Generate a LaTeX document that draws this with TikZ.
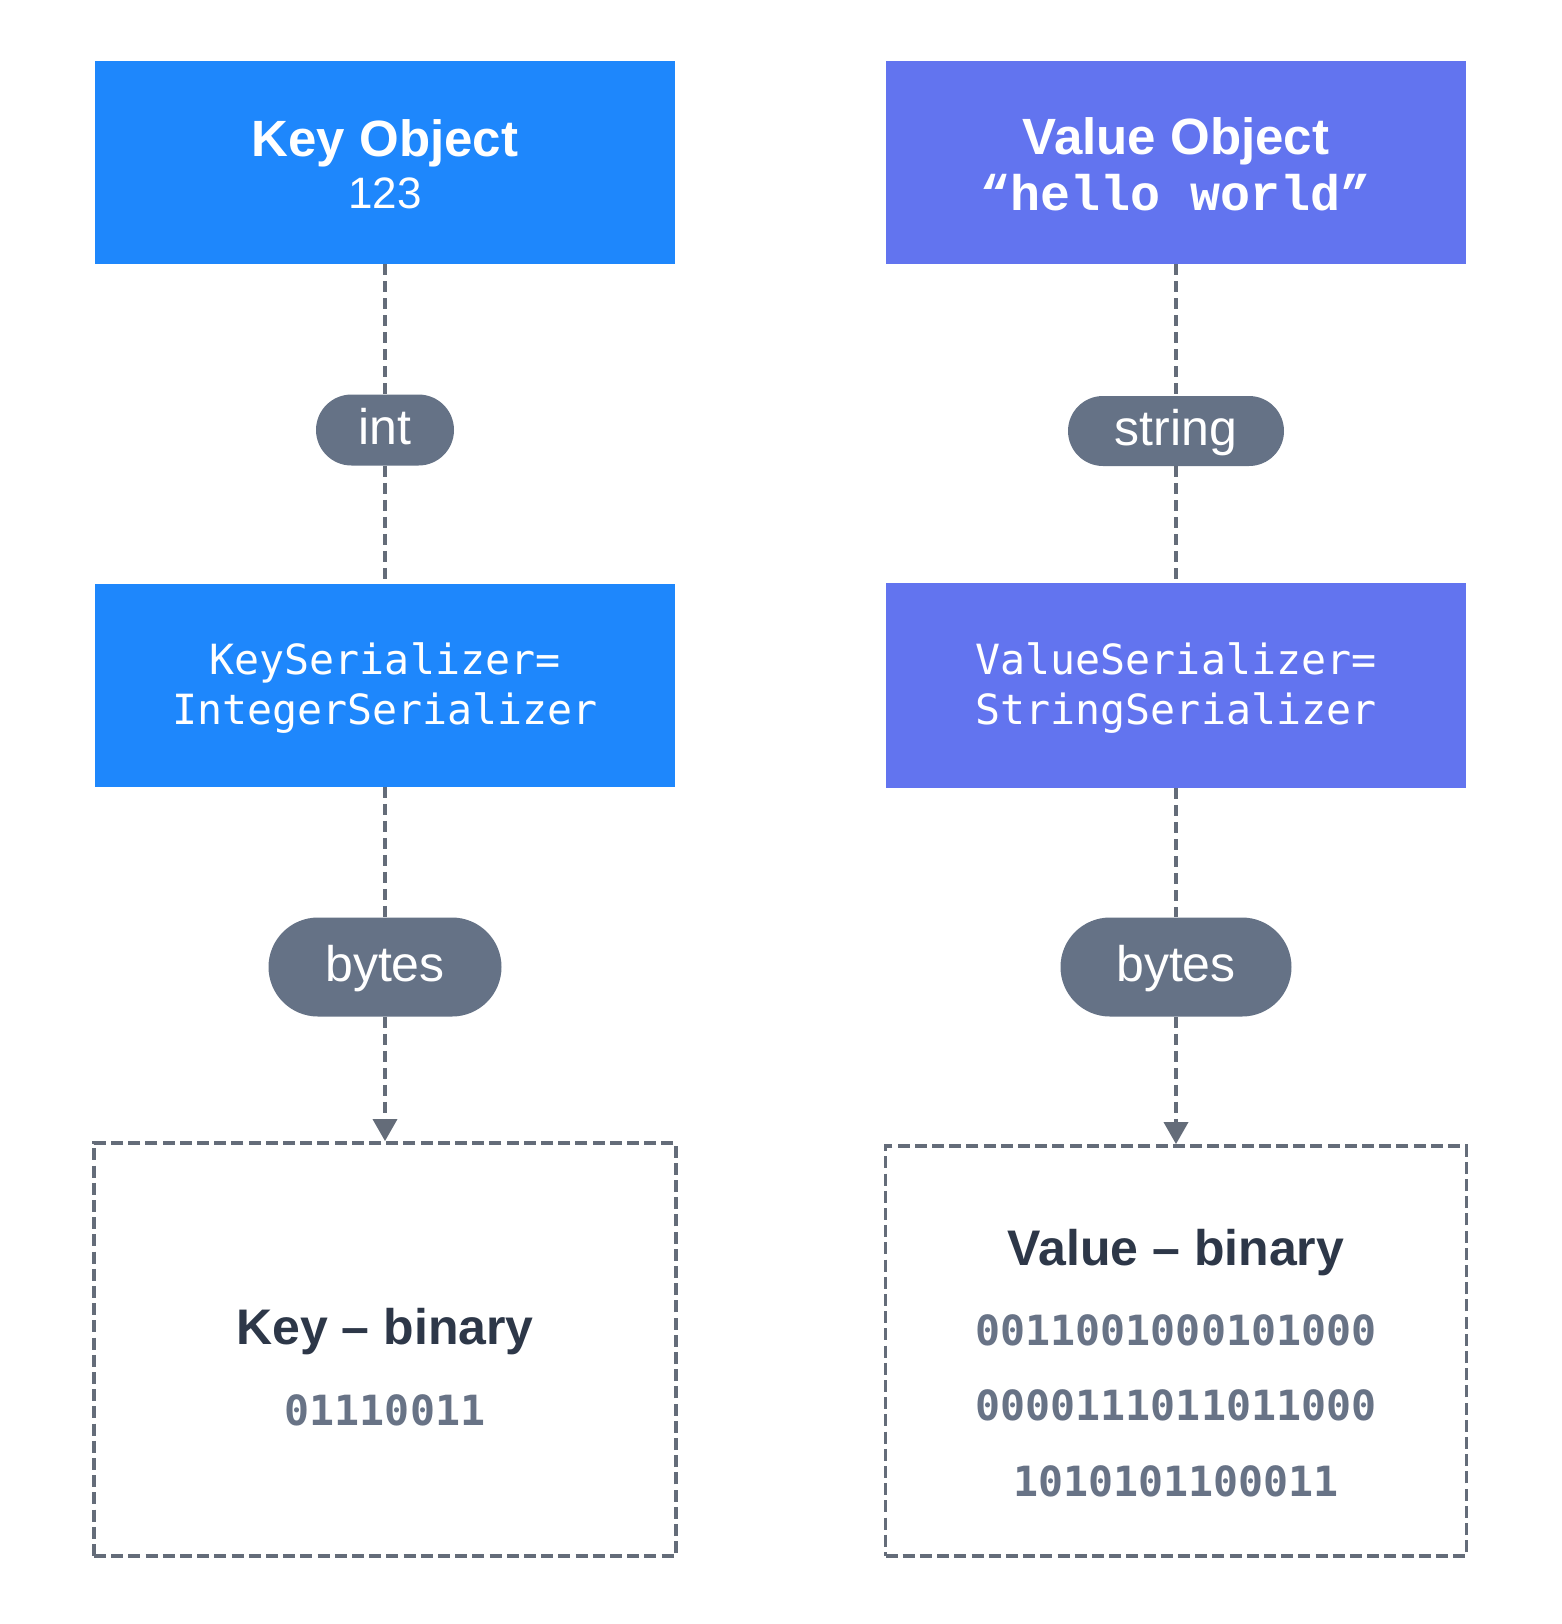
\documentclass[tikz,border=0pt]{standalone}
\usepackage{fontspec}
\setmainfont{Liberation Sans}
\newfontfamily\codefont{DejaVu Sans Mono}
\newfontfamily\strfont{Liberation Mono}
\usetikzlibrary{arrows.meta}

\definecolor{keyblue}{HTML}{1E87FC}
\definecolor{valpurple}{HTML}{6274EF}
\definecolor{pillgray}{HTML}{657286}
\definecolor{linegray}{HTML}{646C79}
\definecolor{darktext}{HTML}{2D3748}
\definecolor{bitgray}{HTML}{687386}

\begin{document}
\begin{tikzpicture}[
  x=0.5pt, y=-0.5pt,
  objbox/.style={rectangle, minimum width=290pt, minimum height=101.5pt, inner sep=0pt},
  keybox/.style={objbox, fill=keyblue},
  valbox/.style={objbox, fill=valpurple},
  % capsule label: the argument is half the capsule height
  pill/.style={rectangle, rounded corners=#1, minimum height=2*#1,
               fill=pillgray, text=white, inner sep=0pt,
               text height=21.5pt, text depth=7pt,
               font=\fontsize{25}{30}\selectfont},
  resultbox/.style={rectangle, draw=linegray, line width=1.9pt,
                    dash pattern=on 6pt off 2.6pt, inner sep=0pt,
                    minimum width=290pt, minimum height=205pt},
  flow/.style={draw=linegray, line width=1.8pt, dash pattern=on 5.5pt off 3pt},
  flowarrow/.style={flow, -{Triangle[width=12pt,length=11pt]}},
  title/.style={anchor=base, text=white, font=\bfseries\fontsize{25.5}{30}\selectfont},
  codeline/.style={anchor=base, text=white, font=\codefont\fontsize{20.8}{25}\selectfont},
  bintitle/.style={anchor=base, text=darktext, font=\bfseries\fontsize{25}{30}\selectfont},
  bits/.style={anchor=base, text=bitgray, font=\codefont\bfseries\fontsize{20.8}{25}\selectfont},
]
\useasboundingbox (0,0) rectangle (1562,1624);
\fill[white] (0,0) rectangle (1562,1624);

% ---------- key column ----------
\node[keybox] (keyobj) at (385,162.5) {};
\node[title] (keyobjtitle) at (385,156) {Key Object};
\node[anchor=base, text=white, font=\fontsize{22}{26}\selectfont] (keyobjval) at (385,208) {123};

\node[pill=17.75pt, minimum width=69pt] (intpill) at (385,430) {int};

\node[keybox] (keyser) at (385,685) {};
\node[codeline] (keyserA) at (385,674) {KeySerializer=};
\node[codeline] (keyserB) at (385,724) {IntegerSerializer};

\node[pill=24.75pt, minimum width=116.5pt] (kbytes) at (385,967) {bytes};

\node[resultbox, minimum width=291pt, minimum height=206.5pt] (keybin) at (385,1349.5) {};
\node[bintitle] (keybintitle) at (385,1344) {Key -- binary};
\node[bits] (keybits) at (385,1425) {01110011};

\draw[flow] (keyobj.south) -- (intpill.north);
\draw[flow] (intpill.south) -- (keyser.north);
\draw[flow] (keyser.south) -- (kbytes.north);
\draw[flowarrow] (kbytes.south) -- (keybin.north);

% ---------- value column ----------
\node[valbox] (valobj) at (1176,162.5) {};
\node[title] (valobjtitle) at (1176,154) {Value Object};
\node[anchor=base, text=white, font=\strfont\bfseries\fontsize{25}{30}\selectfont] (valobjval) at (1176,210) {“hello world”};

\node[pill=17.5pt, minimum width=108pt] (strpill) at (1176,431) {string};

\node[valbox, minimum height=102.5pt] (valser) at (1176,685.5) {};
\node[codeline] (valserA) at (1176,674) {ValueSerializer=};
\node[codeline] (valserB) at (1176,724) {StringSerializer};

\node[pill=24.75pt, minimum width=115.5pt] (vbytes) at (1176,967) {bytes};

\node[resultbox, minimum width=290.5pt, minimum height=205pt] (valbin) at (1176,1351) {};
\node[bintitle] (valbintitle) at (1176,1265) {Value -- binary};
\node[bits] (valbitsA) at (1176,1345) {0011001000101000};
\node[bits] (valbitsB) at (1176,1420) {0000111011011000};
\node[bits] (valbitsC) at (1176,1496) {1010101100011};

\draw[flow] (valobj.south) -- (strpill.north);
\draw[flow] (strpill.south) -- (valser.north);
\draw[flow] (valser.south) -- (vbytes.north);
\draw[flowarrow] (vbytes.south) -- (valbin.north);
\end{tikzpicture}
\end{document}
